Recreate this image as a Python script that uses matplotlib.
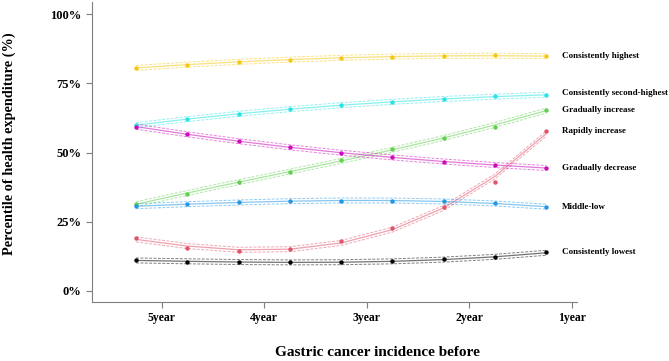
import numpy as np
import matplotlib
matplotlib.use("Agg")
import matplotlib.pyplot as plt

# time before gastric cancer incidence (years), 6-month steps
years = [5.25, 4.75, 4.25, 3.75, 3.25, 2.75, 2.25, 1.75, 1.25]
tick_years = [5, 4, 3, 2, 1]
tick_labels = ["5year", "4year", "3year", "2year", "1year"]

groups = ["Consistently lowest", "Rapidly increase", "Gradually increase",
          "Middle-low", "Consistently second-highest", "Gradually decrease",
          "Consistently highest"]
lowest = [11.1, 10.6, 10.4, 10.4, 10.4, 10.75, 11.4, 12.1, 13.9]
rapid_inc = [19.1, 15.7, 14.3, 15.1, 18.0, 22.9, 30.2, 39.5, 57.8]
gradual_inc = [31.5, 35.2, 39.2, 43.1, 47.2, 51.3, 55.3, 59.4, 65.5]
middle_low = [30.6, 31.4, 32.0, 32.5, 32.6, 32.6, 32.4, 31.7, 30.4]
second_high = [60.0, 62.0, 64.0, 65.8, 67.2, 68.3, 69.3, 70.3, 70.9]
gradual_dec = [59.4, 56.6, 54.1, 52.0, 49.9, 48.3, 46.7, 45.6, 44.4]
highest = [80.6, 81.8, 82.9, 83.6, 84.2, 84.7, 84.9, 85.2, 84.8]
series = [lowest, rapid_inc, gradual_inc, middle_low, second_high, gradual_dec, highest]
# R 4 default palette
colors = ["#000000", "#DF536B", "#61D04F", "#2297E6", "#28E2E5", "#CD0BBC", "#F5C710"]
label_offset = {"Consistently second-highest": 0.6}

plt.rcParams['font.family'] = ['Liberation Serif', 'DejaVu Serif']
plt.rcParams['font.weight'] = 'bold'

fig = plt.figure(figsize=(6.69, 3.61), dpi=100)
ax = fig.add_axes([0.1375, 0.1634, 0.725, 0.83])

x = np.array(years)
for name, vals, col in zip(groups, series, colors):
    vals = np.array(vals)
    # cubic trajectory fitted to observed percentiles
    coef = np.polyfit(x, vals, 3)
    fit = np.polyval(coef, x)
    ax.plot(x, fit, color=col, lw=0.9, alpha=0.55)
    ax.plot(x, fit + 0.9, color=col, lw=0.7, ls=(0, (3, 1.5)), alpha=0.5)
    ax.plot(x, fit - 0.9, color=col, lw=0.7, ls=(0, (3, 1.5)), alpha=0.5)
    ax.scatter(x, vals, s=10, color=col, zorder=3, linewidths=0)
    ax.text(1.1, vals[-1] + label_offset.get(name, 0), name, fontsize=6.5,
            fontweight='bold', va='center', ha='left', clip_on=False)

ax.set_xlim(5.68, 0.95)
ax.set_ylim(-4, 104.3)
ax.set_xticks(tick_years)
ax.set_xticklabels(tick_labels, fontsize=8.5, fontweight='bold')
ax.set_yticks([0, 25, 50, 75, 100])
ax.set_yticklabels(["0%", "25%", "50%", "75%", "100%"], fontsize=9, fontweight='bold')

for side in ["top", "right"]:
    ax.spines[side].set_visible(False)
for side in ["left", "bottom"]:
    ax.spines[side].set_color("#7f7f7f")
    ax.spines[side].set_linewidth(0.8)
ax.tick_params(colors="#7f7f7f", labelcolor="black", length=4, width=0.8)

ax.set_ylabel("Percentile of health expenditure (%)", fontsize=10.3,
              fontweight='bold', va='center')
ax.yaxis.set_label_coords(-0.171, 0.53)
ax.set_xlabel("Gastric cancer incidence before", fontsize=11,
              fontweight='bold', va='center')
ax.xaxis.set_label_coords(0.589, -0.167)

fig.savefig("out.png", dpi=100)
